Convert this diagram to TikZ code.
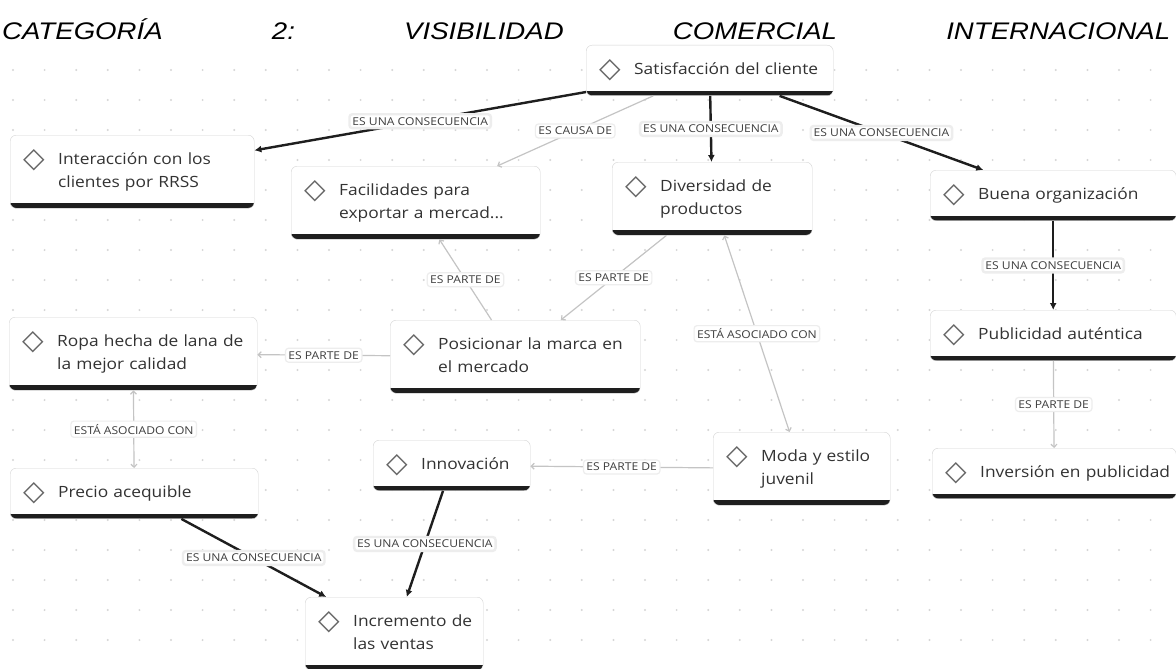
\documentclass[tikz,border=0pt]{standalone}
\usepackage{fontspec}
\setmainfont{Open Sans}[FakeStretch=1.12]
\newfontfamily\titlefont{Liberation Sans}[FakeStretch=1.15]
\newfontfamily\symfont{DejaVu Sans}
\usetikzlibrary{arrows.meta}

\definecolor{cardborder}{HTML}{D4D4D4}
\definecolor{cardtext}{HTML}{333333}
\definecolor{icongray}{HTML}{666666}
\definecolor{thinline}{HTML}{C4C4C4}
\definecolor{thickline}{HTML}{1E1E1E}
\definecolor{labeltext}{HTML}{3E3E3E}
\definecolor{griddot}{HTML}{D6D6D6}

\newcommand{\ico}{\makebox[32pt][l]{\hspace*{-3pt}\raisebox{-3pt}{\symfont\fontsize{28}{28}\selectfont\textcolor{icongray}{◇}}}}
\newcommand{\concepto}[1]{\noindent\ico\begin{tabular}[t]{@{}l@{}}#1\end{tabular}}

\begin{document}
\begin{tikzpicture}[x=1pt,y=-1pt]

\tikzstyle{card}=[draw=cardborder, fill=white, rounded corners=6pt, anchor=north west,
	inner xsep=16pt, inner ysep=14pt, text=cardtext,
	font=\fontsize{15.5}{22.5}\selectfont,
	path picture={\draw[thickline, line width=10pt]
		(path picture bounding box.south west) -- (path picture bounding box.south east);}]
\tikzstyle{etiqueta}=[fill=white, draw=black!7, rounded corners=3pt, inner sep=3pt,
	text=labeltext, font=\fontsize{10.8}{12}\selectfont]
\tikzstyle{fuerte}=[draw=thickline, line width=2.4pt, -{Latex[length=7pt,width=7pt]}]
\tikzstyle{suave}=[draw=thinline, line width=1.2pt, -{Straight Barb[length=3pt,width=6pt]}]
\tikzstyle{ambos}=[draw=thinline, line width=1.2pt,
	{Straight Barb[length=3pt,width=6pt]}-{Straight Barb[length=3pt,width=6pt]}]

\fill[white] (0,0) rectangle (1176,669);
\useasboundingbox (0,0) rectangle (1176,669);

% puntos del fondo
\foreach \gx in {0,...,36}
	\foreach \gy in {0,...,19}
		\fill[griddot] (13+31.6*\gx, 70+30*\gy) circle (1.1pt);

\node (titulo) at (2,40) [anchor=base west, inner sep=0pt, text width=1168pt,
	font=\titlefont\itshape\fontsize{24}{28}\selectfont]
	{\noindent CATEGORÍA\hfill 2:\hfill VISIBILIDAD\hfill COMERCIAL\hfill INTERNACIONAL};

\node (sat) at (586,45) [card, text width=215pt] {\concepto{Satisfacción del cliente}};
\node (inter) at (10,135) [card, text width=212pt] {\concepto{Interacción con los\\clientes por RRSS}};
\node (faci) at (291,166) [card, text width=217pt] {\concepto{Facilidades para\\exportar a mercad...}};
\node (diver) at (612,162) [card, text width=168pt] {\concepto{Diversidad de\\productos}};
\node (buena) at (930,170) [card, text width=214pt] {\concepto{Buena organización}};
\node (ropa) at (9,317) [card, text width=216pt] {\concepto{Ropa hecha de lana de\\la mejor calidad}};
\node (posi) at (390,320) [card, text width=218pt] {\concepto{Posicionar la marca en\\el mercado}};
\node (publi) at (930,310) [card, text width=214pt] {\concepto{Publicidad auténtica}};
\node (inno) at (373,440) [card, text width=125pt] {\concepto{Innovación}};
\node (moda) at (713,432) [card, text width=145pt] {\concepto{Moda y estilo\\juvenil}};
\node (inver) at (932,448) [card, text width=212pt] {\concepto{Inversión en publicidad}};
\node (precio) at (10,468) [card, text width=216pt] {\concepto{Precio acequible}};
\node (incre) at (305,597) [card, text width=146pt] {\concepto{Incremento de\\las ventas}};

\draw[fuerte] (sat) -- (inter) node [etiqueta, midway] {ES UNA CONSECUENCIA};
\draw[suave] (sat) -- (faci) node [etiqueta, midway] {ES CAUSA DE};
\draw[fuerte] (sat) -- (diver) node [etiqueta, midway] {ES UNA CONSECUENCIA};
\draw[fuerte] (sat) -- (buena) node [etiqueta, midway] {ES UNA CONSECUENCIA};
\draw[fuerte] (buena) -- (publi) node [etiqueta, midway] {ES UNA CONSECUENCIA};
\draw[suave] (publi) -- (inver) node [etiqueta, midway] {ES PARTE DE};
\draw[suave] (posi) -- (faci) node [etiqueta, midway] {ES PARTE DE};
\draw[suave] (diver) -- (posi) node [etiqueta, midway] {ES PARTE DE};
\draw[suave] (posi) -- (ropa) node [etiqueta, midway] {ES PARTE DE};
\draw[ambos] (ropa) -- (precio) node [etiqueta, midway] {ESTÁ ASOCIADO CON};
\draw[ambos] (diver) -- (moda) node [etiqueta, midway] {ESTÁ ASOCIADO CON};
\draw[suave] (moda) -- (inno) node [etiqueta, midway] {ES PARTE DE};
\draw[fuerte] (inno) -- (incre) node [etiqueta, midway] {ES UNA CONSECUENCIA};
\draw[fuerte] (precio) -- (incre) node [etiqueta, midway] {ES UNA CONSECUENCIA};
%\draw[suave] (faci) -- (posi);
\end{tikzpicture}
\end{document}
